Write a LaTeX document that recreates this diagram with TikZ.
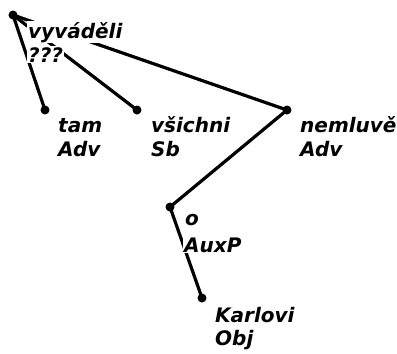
\documentclass[tikz,border=0pt]{standalone}
\usepackage{fontspec}
\setmainfont{DejaVu Sans}
\usepackage{tikz}
\usetikzlibrary{positioning,calc}

\begin{document}
\begin{tikzpicture}[x=1bp,y=-1bp,
    dot/.style={circle,fill=black,inner sep=0pt,minimum size=9bp},
    edge/.style={line width=3.2bp},
    lbl/.style={fill=white,inner sep=1bp,anchor=base west,
      font=\fontsize{20bp}{24bp}\selectfont\bfseries\itshape}]
    \useasboundingbox (0,0) rectangle (397,354);
    % tree nodes
    \node[dot] (root) at (13,15) {};
    \node[dot] (tam) at (45,110) {};
    \node[dot] (vsichni) at (137,110) {};
    \node[dot] (nemluve) at (287,110) {};
    \node[dot] (o) at (170,207) {};
    \node[dot] (karlovi) at (202,298) {};
    % edges
    \draw[edge] (root.center) -- (tam.center);
    \draw[edge] (root.center) -- (vsichni.center);
    \draw[edge] (root.center) -- (nemluve.center);
    \draw[edge] (nemluve.center) -- (o.center);
    \draw[edge] (o.center) -- (karlovi.center);
    % labels
    \node[lbl] (rootw) at ($(root)+(14,23)$) {vyváděli};
    \node[lbl] (roott) at ($(rootw.base west)+(0,24)$) {???};
    \node[lbl] (tamw) at ($(tam)+(12,22)$) {tam};
    \node[lbl] (tamt) at ($(tamw.base west)+(0,24)$) {Adv};
    \node[lbl] (vsichniw) at ($(vsichni)+(13,22)$) {všichni};
    \node[lbl] (vsichnit) at ($(vsichniw.base west)+(0,24)$) {Sb};
    \node[lbl] (nemluvew) at ($(nemluve)+(12,22)$) {nemluvě};
    \node[lbl] (nemluvet) at ($(nemluvew.base west)+(0,24)$) {Adv};
    \node[lbl] (ow) at ($(o)+(14,18)$) {o};
    \node[lbl] (ot) at ($(ow.base west)+(-1,27)$) {AuxP};
    \node[lbl] (karloviw) at ($(karlovi)+(12,24)$) {Karlovi};
    \node[lbl] (karlovit) at ($(karloviw.base west)+(0,23)$) {Obj};
\end{tikzpicture}
\end{document}
